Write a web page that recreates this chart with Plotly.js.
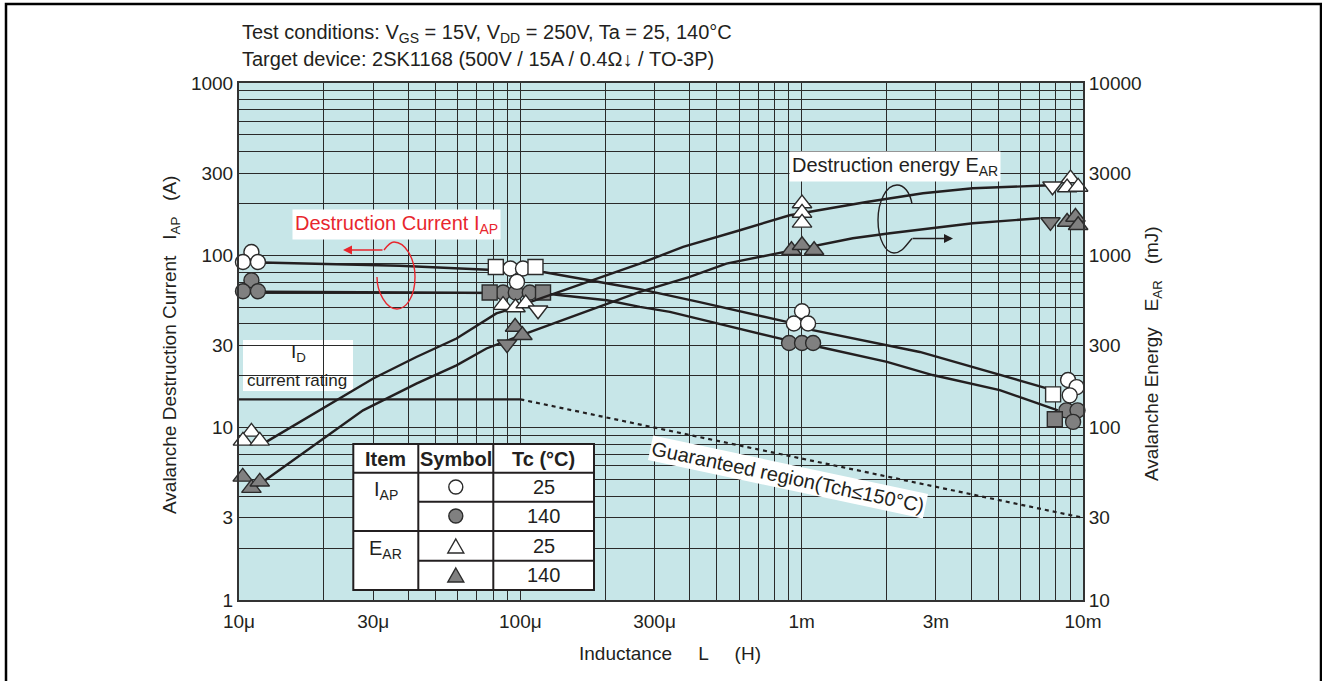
<!DOCTYPE html>
<html><head><meta charset="utf-8">
<script src="https://cdn.plot.ly/plotly-3.0.1.min.js"></script>
<style>html,body{margin:0;padding:0;background:#fff;} #chart{width:1322px;height:681px;}</style>
</head><body><div id="chart"></div>
<script>
// ---------------- DATA (L in H, IAP in A, EAR in mJ) ----------------
const iap25Line_L  = [12.1e-6, 37.3e-6, 122e-6, 266e-6, 434e-6, 885e-6, 1.095e-3, 2.63e-3, 7.44e-3];
const iap25Line_A  = [90.8, 87.0, 79.8, 63.6, 53.5, 41.1, 36.8, 27.5, 16.9];
const iap140Line_L = [12.1e-6, 37.3e-6, 120e-6, 203e-6, 266e-6, 340e-6, 885e-6, 1.16e-3, 2.01e-3, 2.92e-3, 5.06e-3, 8.14e-3];
const iap140Line_A = [61.5, 61.1, 60.3, 54.9, 50.2, 47.0, 32.2, 29.4, 24.1, 20.2, 16.5, 12.6];
const ear25Line_L  = [12.5e-6, 30e-6, 42.7e-6, 59.3e-6, 82.2e-6, 89.2e-6, 266e-6, 379e-6, 603e-6, 907e-6, 1.70e-3, 2.70e-3, 4.06e-3, 7.62e-3];
const ear25Line_mJ = [82.7, 193, 257, 329, 460, 480, 896, 1119, 1398, 1708, 2040, 2292, 2450, 2550];
const ear140Line_L = [11.5e-6, 27.6e-6, 42.7e-6, 59.3e-6, 75.8e-6, 94.2e-6, 108e-6, 266e-6, 400e-6, 540e-6, 857e-6, 1.52e-3, 2.06e-3, 4.06e-3, 7.02e-3];
const ear140Line_mJ= [45.4, 126, 180, 230, 288, 329, 359, 613, 749, 896, 1046, 1257, 1343, 1536, 1641];
const idRating_L   = [10e-6, 100e-6];
const idRating_A   = [14.6, 14.6];
const guaranteed_L = [100e-6, 10e-3];
const guaranteed_A = [14.6, 3.0];

// measured points
const iap25Circ_L  = [11.07e-6, 10.33e-6, 11.68e-6, 92.2e-6, 102.2e-6, 97.3e-6, 1.003e-3, 0.938e-3, 1.054e-3, 8.85e-3, 9.49e-3, 8.97e-3];
const iap25Circ_A  = [104.6, 91.5, 91.5, 83.8, 83.8, 70.1, 47.4, 40.2, 40.2, 18.9, 17.2, 15.4];
const iap140Circ_L = [11.07e-6, 10.33e-6, 11.68e-6, 86.8e-6, 96.3e-6, 108e-6, 0.902e-3, 1.003e-3, 1.098e-3, 8.73e-3, 9.56e-3, 9.22e-3];
const iap140Circ_A = [71.7, 61.9, 61.9, 60.8, 60.8, 60.8, 31.0, 31.0, 31.0, 12.6, 12.6, 10.8];
const iap25Sq_L    = [81.8e-6, 113.2e-6, 7.83e-3];
const iap25Sq_A    = [85.6, 85.6, 15.6];
const iap140Sq_L   = [77.8e-6, 120.4e-6, 7.94e-3];
const iap140Sq_A   = [60.8, 60.8, 11.2];
const ear25Up_L    = [11.07e-6, 10.33e-6, 11.85e-6, 86.8e-6, 96.1e-6, 104.5e-6, 1.003e-3, 1.003e-3, 1.003e-3, 9.03e-3, 8.78e-3, 9.61e-3];
const ear25Up_mJ   = [94.5, 83.8, 83.8, 514, 498, 525, 1998, 1762, 1542, 2790, 2474, 2494];
const ear25Down_L  = [115.6e-6, 7.79e-3];
const ear25Down_mJ = [480, 2517];
const ear140Up_L   = [10.31e-6, 11.07e-6, 11.85e-6, 95.8e-6, 101.7e-6, 0.920e-3, 1.003e-3, 1.107e-3, 8.78e-3, 9.40e-3, 9.61e-3];
const ear140Up_mJ  = [51.8, 44.6, 48.5, 384, 344, 1071, 1145, 1071, 1562, 1670, 1495];
const ear140Down_L = [89.7e-6, 7.66e-3];
const ear140Down_mJ= [305, 1562];

// tick labels
const xTickVals = [10e-6, 30e-6, 100e-6, 300e-6, 1e-3, 3e-3, 10e-3];
const xTickText = ['10\u03bc', '30\u03bc', '100\u03bc', '300\u03bc', '1m', '3m', '10m'];
const yTickVals = [1, 3, 10, 30, 100, 300, 1000];
const yTickText = ['1', '3', '10', '30', '100', '300', '1000'];
const y2TickVals = [10, 30, 100, 300, 1000, 3000, 10000];
const y2TickText = ['10', '30', '100', '300', '1000', '3000', '10000'];

// ---------------- helpers ----------------
function gridVals(lo, hi) { const v = []; for (let e = lo; e < hi; e++) for (let m = 1; m <= 9; m++) v.push(m * Math.pow(10, e)); v.push(Math.pow(10, hi)); return v; }
function labelsFor(vals, tv, tt) { return vals.map(v => { const i = tv.findIndex(t => Math.abs(t - v) / t < 1e-6); return i >= 0 ? tt[i] : ''; }); }
const xg = gridVals(-5, -2), yg = gridVals(0, 3), y2g = gridVals(1, 4);

const PL = 239, PR = 1083, PT = 83, PB = 600;
const fx = x => (x - PL) / (PR - PL);
const fy = y => (PB - y) / (PB - PT);
function pathPx(pts) {
  return pts.map(p => p[0] + ' ' + p.slice(1).reduce((a, v, i) => a.concat(i % 2 === 0 ? fx(v) : fy(v)), []).join(',')).join(' ');
}

const FONT = '"Liberation Sans", Arial, Helvetica, sans-serif';
const ink = '#231f20';
const gray = '#808080';
const edge = '#2b2b2b';
const FS = 20;

const lineStyle = {color: ink, width: 2.4};
function lineTrace(x, y, yaxis, dash) {
  return {x, y, yaxis: yaxis || 'y', type: 'scatter', mode: 'lines', line: Object.assign({}, lineStyle, dash ? {dash: dash, width: 2.2} : {}), hoverinfo: 'skip', showlegend: false};
}
function markTrace(x, y, yaxis, symbol, fill, size) {
  return {x, y, yaxis: yaxis || 'y', type: 'scatter', mode: 'markers', marker: {symbol, color: fill, size: size || 15, line: {color: edge, width: 1.4}}, hoverinfo: 'skip', showlegend: false, cliponaxis: false};
}

const traces = [
  lineTrace(idRating_L, idRating_A),
  lineTrace(guaranteed_L, guaranteed_A, 'y', '4px,4px'),
  lineTrace(iap25Line_L, iap25Line_A),
  lineTrace(iap140Line_L, iap140Line_A),
  lineTrace(ear25Line_L, ear25Line_mJ, 'y2'),
  lineTrace(ear140Line_L, ear140Line_mJ, 'y2'),
  markTrace(ear140Up_L, ear140Up_mJ, 'y2', 'triangle-up', gray, 17),
  markTrace(ear140Down_L, ear140Down_mJ, 'y2', 'triangle-down', gray, 17),
  markTrace(ear25Up_L, ear25Up_mJ, 'y2', 'triangle-up', '#ffffff', 17),
  markTrace(ear25Down_L, ear25Down_mJ, 'y2', 'triangle-down', '#ffffff', 17),
  markTrace(iap140Circ_L, iap140Circ_A, 'y', 'circle', gray, 15),
  markTrace(iap140Sq_L, iap140Sq_A, 'y', 'square', gray, 15),
  markTrace(iap25Circ_L, iap25Circ_A, 'y', 'circle', '#ffffff', 15),
  markTrace(iap25Sq_L, iap25Sq_A, 'y', 'square', '#ffffff', 15),
];

const gridColor = '#2a2a2a';
const baseAxis = {type: 'log', showgrid: true, gridcolor: gridColor, gridwidth: 1, zeroline: false, showline: true, mirror: true, linecolor: '#333', linewidth: 2, ticks: '', tickfont: {family: FONT, size: 19, color: ink}};

// ---------------- annotations ----------------
const A = [];
function txt(x, y, text, opt) { A.push(Object.assign({xref: 'paper', yref: 'paper', x: fx(x), y: fy(y), text, showarrow: false, font: {family: FONT, size: FS, color: ink}}, opt || {})); }

txt(240, 33, 'Test conditions: V<sub>GS</sub> = 15V, V<sub>DD</sub> = 250V, Ta = 25, 140\u00b0C', {xanchor: 'left', yanchor: 'middle'});
txt(240, 59, 'Target device: 2SK1168 (500V / 15A / 0.4\u03a9\u2193 / TO-3P)', {xanchor: 'left', yanchor: 'middle'});
txt(171, 345, 'Avalanche Destruction Current   I<sub>AP</sub>   (A)', {textangle: -90, xanchor: 'center', yanchor: 'middle', font: {family: FONT, size: 19, color: ink}});
txt(1153, 354, 'Avalanche Energy   E<sub>AR</sub>   (mJ)', {textangle: -90, xanchor: 'center', yanchor: 'middle', font: {family: FONT, size: 19, color: ink}});
txt(670, 653, 'Inductance     L     (H)', {xanchor: 'center', yanchor: 'middle', font: {family: FONT, size: 19, color: ink}});

txt(396, 224, 'Destruction Current I<sub>AP</sub>', {xanchor: 'center', yanchor: 'middle', bgcolor: '#ffffff', font: {family: FONT, size: FS, color: '#e8262d'}, borderpad: 2});
txt(895, 166, 'Destruction energy E<sub>AR</sub>', {xanchor: 'center', yanchor: 'middle', bgcolor: '#ffffff', borderpad: 2});
txt(788, 477, 'Guaranteed region(Tch\u2264150\u00b0C)', {xanchor: 'center', yanchor: 'middle', bgcolor: '#ffffff', textangle: 12, borderpad: 1});
txt(298, 353, 'I<sub>D</sub>', {xanchor: 'center', yanchor: 'middle', font: {family: FONT, size: 19, color: ink}});
txt(297, 380, 'current rating', {xanchor: 'center', yanchor: 'middle', font: {family: FONT, size: 17, color: ink}});

// legend table texts
const colC = [385.8, 455.8, 543.7];
txt(colC[0], 459, '<b>Item</b>', {xanchor: 'center', yanchor: 'middle'});
txt(colC[1], 459, '<b>Symbol</b>', {xanchor: 'center', yanchor: 'middle'});
txt(colC[2], 459, '<b>Tc (\u00b0C)</b>', {xanchor: 'center', yanchor: 'middle'});
txt(colC[0], 490, 'I<sub>AP</sub>', {xanchor: 'center', yanchor: 'middle'});
txt(colC[0], 549, 'E<sub>AR</sub>', {xanchor: 'center', yanchor: 'middle'});
const rowC = [487, 516, 546, 575];
['25', '140', '25', '140'].forEach((t, i) => txt(colC[2], rowC[i], t, {xanchor: 'center', yanchor: 'middle'}));

// arrows
A.push({xref: 'paper', yref: 'paper', x: fx(343), y: fy(250), ax: 41, ay: 0, text: '', showarrow: true, arrowhead: 2, arrowsize: 1.2, arrowwidth: 1.5, arrowcolor: '#e8262d'});
A.push({xref: 'paper', yref: 'paper', x: fx(953), y: fy(238.5), ax: -42, ay: 0, text: '', showarrow: true, arrowhead: 2, arrowsize: 1.2, arrowwidth: 1.5, arrowcolor: ink});

// ---------------- shapes ----------------
const S = [];
function rectPx(x0, y0, x1, y1, opt) { S.push(Object.assign({type: 'rect', xref: 'paper', yref: 'paper', x0: fx(x0), x1: fx(x1), y0: fy(y1), y1: fy(y0), layer: 'above'}, opt)); }
function linePx(x0, y0, x1, y1, opt) { S.push(Object.assign({type: 'line', xref: 'paper', yref: 'paper', x0: fx(x0), x1: fx(x1), y0: fy(y0), y1: fy(y1), layer: 'above'}, opt)); }

// outer frame
S.push({type: 'path', xref: 'paper', yref: 'paper', layer: 'above', path: pathPx([['M', 6, 700], ['L', 6, 4], ['L', 1321, 4], ['L', 1321, 700]]), line: {color: '#000', width: 2.5}});

// ID label box
rectPx(243, 340, 353, 391, {fillcolor: '#ffffff', line: {width: 0}, layer: 'below'});

// red loop
S.push({type: 'path', xref: 'paper', yref: 'paper', layer: 'above', line: {color: '#e8262d', width: 1.4},
  path: pathPx([['M', 384, 250], ['C', 387, 246, 390, 242, 394, 242], ['C', 405, 242, 415, 258, 415, 277], ['C', 415, 297, 406, 309, 397, 309], ['C', 386, 309, 377, 292, 377, 277]])});
// black loop
S.push({type: 'path', xref: 'paper', yref: 'paper', layer: 'above', line: {color: ink, width: 1.4},
  path: pathPx([['M', 912, 204], ['C', 910, 192, 904, 185, 897, 185], ['C', 886, 185, 878, 202, 878, 220], ['C', 878, 240, 886, 253, 894, 253], ['C', 902, 253, 906, 245, 912, 238.5]])});

// legend table
const TL = 353.3, TR = 594, TT = 444, TB = 590, C1 = 418.3, C2 = 493.3;
rectPx(TL, TT, TR, TB, {fillcolor: '#ffffff', line: {color: ink, width: 2}});
const tl = {line: {color: ink, width: 2}};
linePx(C1, TT, C1, TB, tl);
linePx(C2, TT, C2, TB, tl);
linePx(TL, 472.7, TR, 472.7, tl);
linePx(C1, 501.7, TR, 501.7, tl);
linePx(TL, 531, TR, 531, tl);
linePx(C1, 560.7, TR, 560.7, tl);
function circPx(cx, cy, r, fill) { S.push({type: 'circle', xref: 'paper', yref: 'paper', layer: 'above', x0: fx(cx - r), x1: fx(cx + r), y0: fy(cy + r), y1: fy(cy - r), fillcolor: fill, line: {color: edge, width: 1.4}}); }
function triPx(cx, cy, w, h, fill) { S.push({type: 'path', xref: 'paper', yref: 'paper', layer: 'above', path: pathPx([['M', cx, cy - h / 2], ['L', cx + w / 2, cy + h / 2], ['L', cx - w / 2, cy + h / 2], ['Z']]), fillcolor: fill, line: {color: edge, width: 1.4}}); }
circPx(colC[1], rowC[0], 7, '#ffffff');
circPx(colC[1], rowC[1], 7, gray);
triPx(colC[1], rowC[2], 16, 14, '#ffffff');
triPx(colC[1], rowC[3], 16, 14, gray);

const layout = {
  width: 1322, height: 681,
  margin: {l: PL, r: 1322 - PR, t: PT, b: 681 - PB, pad: 0},
  paper_bgcolor: '#ffffff', plot_bgcolor: '#c7e6e8',
  showlegend: false,
  font: {family: FONT, size: FS, color: ink},
  xaxis: Object.assign({}, baseAxis, {range: [-5, -2], tickvals: xg, ticktext: labelsFor(xg, xTickVals, xTickText), ticklabelstandoff: 3}),
  yaxis: Object.assign({}, baseAxis, {range: [0, 3], tickvals: yg, ticktext: labelsFor(yg, yTickVals, yTickText)}),
  yaxis2: Object.assign({}, baseAxis, {range: [1, 4], overlaying: 'y', side: 'right', showgrid: false, tickvals: y2g, ticktext: labelsFor(y2g, y2TickVals, y2TickText)}),
  annotations: A,
  shapes: S
};

Plotly.newPlot('chart', traces, layout, {staticPlot: true, displayModeBar: false});
</script>
</body></html>
